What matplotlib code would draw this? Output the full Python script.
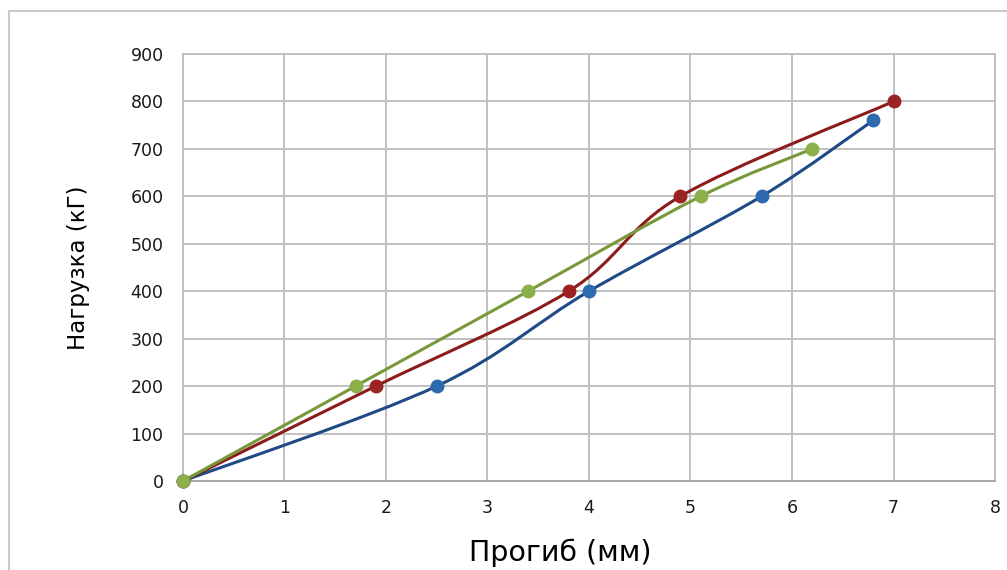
import matplotlib
matplotlib.use("Agg")
from matplotlib import pyplot as plt
from matplotlib.path import Path
from matplotlib.patches import PathPatch, Rectangle
import numpy as np

# deflection (mm) and load (kG) for three test specimens
blue_x = [0, 2.5, 4.0, 5.7, 6.8]
blue_y = [0, 200, 400, 600, 760]
red_x = [0, 1.9, 3.8, 4.9, 7.0]
red_y = [0, 200, 400, 600, 800]
green_x = [0, 1.7, 3.4, 5.1, 6.2]
green_y = [0, 200, 400, 600, 700]

x_ticks = [0, 1, 2, 3, 4, 5, 6, 7, 8]
y_ticks = [0, 100, 200, 300, 400, 500, 600, 700, 800, 900]


def smooth_path(xs, ys):
    # Bezier path through the points, like a spreadsheet "smoothed line"
    p = np.column_stack([xs, ys]).astype(float)
    pad = np.vstack([p[0], p, p[-1]])
    verts = [p[0]]
    codes = [Path.MOVETO]
    for i in range(len(p) - 1):
        p0, p1, p2, p3 = pad[i], pad[i + 1], pad[i + 2], pad[i + 3]
        c1 = p1 + (p2 - p0) / 6.0
        c2 = p2 - (p3 - p1) / 6.0
        verts += [c1, c2, p2]
        codes += [Path.CURVE4] * 3
    return Path(verts, codes)


fig = plt.figure(figsize=(10.07, 5.70), dpi=100)
fig.patches.append(Rectangle((9 / 1007, -0.1), 1.2, 1 - 11 / 570 + 0.1,
                             transform=fig.transFigure, fill=False,
                             edgecolor="#c8c8c8", linewidth=1.5))

ax = fig.add_axes([0.1817, 0.1561, 0.8064, 0.7492])

series = [
    (blue_x, blue_y, "#1f4a86", "#2e6aae"),
    (red_x, red_y, "#8c1c1c", "#9c2323"),
    (green_x, green_y, "#77993a", "#8bb04a"),
]
for xs, ys, line_c, mark_c in series:
    ax.add_patch(PathPatch(smooth_path(xs, ys), facecolor="none",
                           edgecolor=line_c, linewidth=2.2, zorder=3,
                           capstyle="round"))
    ax.plot(xs, ys, linestyle="none", marker="o", markersize=9,
            color=mark_c, zorder=4, clip_on=False)

ax.set_xlim(0, 8)
ax.set_ylim(0, 900)
ax.set_xticks(x_ticks)
ax.set_yticks(y_ticks)
ax.grid(True, color="#c0c0c0", linewidth=1.4)
ax.set_axisbelow(True)
for s in ax.spines.values():
    s.set_color("#c0c0c0")
    s.set_linewidth(1.4)
ax.spines["bottom"].set_color("#a8a8a8")
ax.tick_params(length=0, labelsize=12.5, labelcolor="#1a1a1a")
ax.tick_params(axis="y", pad=14)
ax.tick_params(axis="x", pad=13)

ax.set_xlabel("Прогиб (мм)", fontsize=20.5, labelpad=13)
ax.xaxis.set_label_coords(0.464, -0.135)
ax.set_ylabel("Нагрузка (кГ)", fontsize=16.5, labelpad=29)

fig.savefig("out.png", dpi=100)
